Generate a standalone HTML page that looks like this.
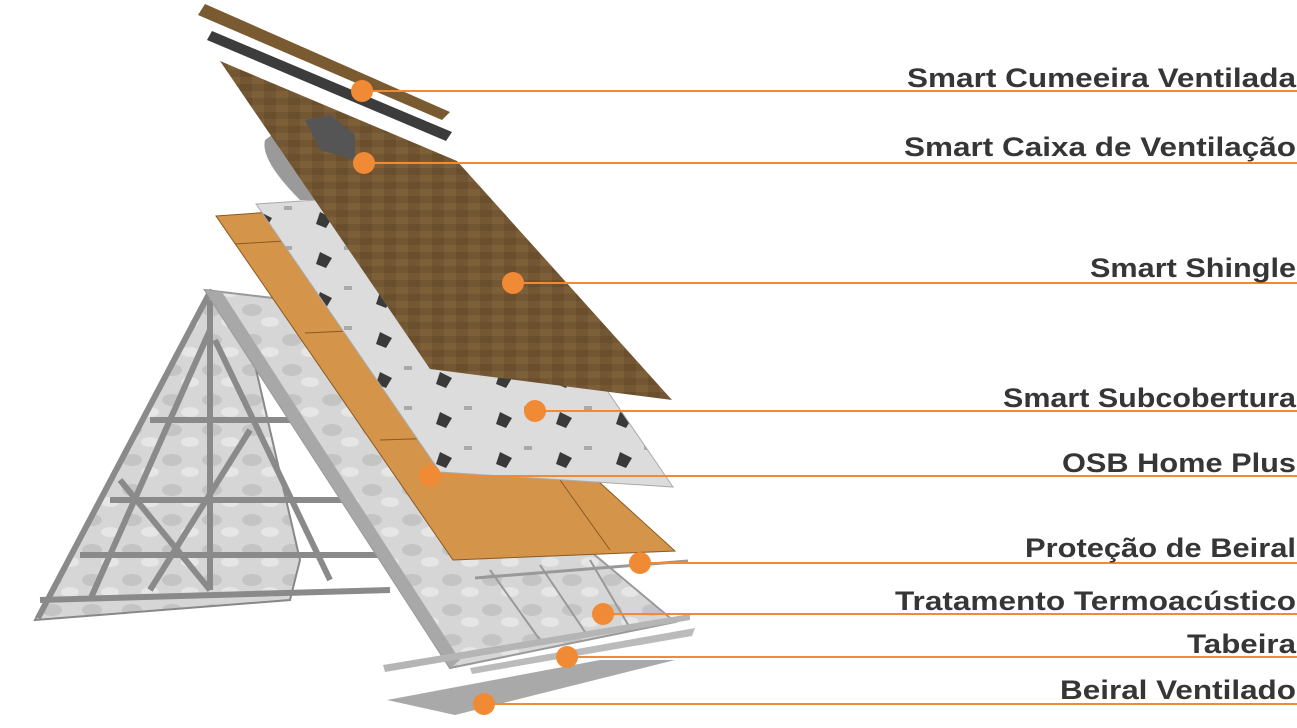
<!DOCTYPE html>
<html><head><meta charset="utf-8"><style>
html,body{margin:0;padding:0;background:#fff;width:1297px;height:728px;overflow:hidden}
svg{display:block}
text{font-family:"Liberation Sans",sans-serif;font-weight:bold;font-size:27px;fill:#363636}
</style></head><body>
<svg width="1297" height="728" viewBox="0 0 1297 728" xmlns="http://www.w3.org/2000/svg">
<defs>
<pattern id="ins" width="40" height="30" patternUnits="userSpaceOnUse">
<rect width="40" height="30" fill="#d6d6d6"/><ellipse cx="12" cy="10" rx="10" ry="6" fill="#c4c4c4"/><ellipse cx="30" cy="22" rx="9" ry="5" fill="#e6e6e6"/>
</pattern>
<pattern id="sh" width="24" height="14" patternUnits="userSpaceOnUse">
<rect width="24" height="14" fill="#735633"/><rect x="0" y="0" width="12" height="7" fill="#6a4f2c"/><rect x="12" y="7" width="12" height="7" fill="#7d5f38"/>
</pattern>
<pattern id="sub" width="60" height="40" patternUnits="userSpaceOnUse">
<rect width="60" height="40" fill="#dcdcdc"/><path d="M20 12 l12 6 l-6 10 l-10 -4z" fill="#3a3a3a"/><rect x="44" y="6" width="8" height="4" fill="#aaa"/>
</pattern>
</defs>
<polygon points="210,290 35,620 290,600 300,560 240,300" fill="url(#ins)" stroke="#888" stroke-width="2"/>
<g stroke="#8a8a8a" stroke-width="6" fill="none">
<line x1="210" y1="292" x2="38" y2="618"/>
<line x1="210" y1="300" x2="210" y2="590"/>
<line x1="150" y1="420" x2="390" y2="420"/>
<line x1="110" y1="500" x2="390" y2="500"/>
<line x1="80" y1="555" x2="400" y2="555"/>
<line x1="40" y1="600" x2="390" y2="590"/>
<line x1="210" y1="330" x2="90" y2="600"/>
<line x1="215" y1="340" x2="330" y2="580"/>
<line x1="250" y1="430" x2="150" y2="590"/>
<line x1="120" y1="480" x2="210" y2="590"/>
</g>
<polygon points="205,290 290,300 675,622 450,668 " fill="url(#ins)" stroke="#999" stroke-width="2"/>
<g stroke="#999" stroke-width="2"><line x1="490" y1="570" x2="540" y2="640"/><line x1="540" y1="565" x2="585" y2="632"/><line x1="590" y1="560" x2="630" y2="628"/></g>
<polygon points="205,290 222,292 460,660 450,668" fill="#a8a8a8"/>
<polygon points="216,216 300,210 675,551 453,560" fill="#d4944a" stroke="#8a5a20" stroke-width="1"/>
<line x1="235" y1="244" x2="300" y2="240" stroke="#8a5a20"/>
<line x1="305" y1="333" x2="370" y2="330" stroke="#8a5a20"/>
<line x1="380" y1="440" x2="440" y2="438" stroke="#8a5a20"/>
<line x1="560" y1="480" x2="610" y2="550" stroke="#8a5a20"/>
<polygon points="256,204 470,190 673,487 440,472" fill="url(#sub)" stroke="#aaa"/>
<path d="M265,140 Q260,160 300,200 L320,200 Q285,160 272,135Z" fill="#9a9a9a"/>
<polygon points="220,61 457,161 672,400 430,369" fill="url(#sh)"/>
<polygon points="305,120 330,115 355,135 355,160 320,150" fill="#555"/>
<polygon points="198,15 205,4 450,112 442,120" fill="#7a5a30"/>
<polygon points="207,40 212,31 452,132 446,141" fill="#3c3c3c"/>
<line x1="475" y1="578" x2="688" y2="561" stroke="#999" stroke-width="3"/>
<polygon points="383,665 690,614 690,620 385,672" fill="#b5b5b5"/>
<polygon points="470,668 695,628 692,636 472,674" fill="#bbb"/>
<polygon points="387,700 600,660 675,660 455,715" fill="#a9a9a9"/>
<g stroke="#f08a35" stroke-width="2">
<line x1="362" y1="91" x2="1297" y2="91"/>
<line x1="364" y1="163" x2="1297" y2="163"/>
<line x1="513" y1="283" x2="1297" y2="283"/>
<line x1="535" y1="411" x2="1297" y2="411"/>
<line x1="430" y1="476" x2="1297" y2="476"/>
<line x1="640" y1="563" x2="1297" y2="563"/>
<line x1="603" y1="614" x2="1297" y2="614"/>
<line x1="567" y1="657" x2="1297" y2="657"/>
<line x1="484" y1="704" x2="1297" y2="704"/>
</g>
<g fill="#f08a35">
<circle cx="362" cy="91" r="11"/><circle cx="364" cy="163" r="11"/><circle cx="513" cy="283" r="11"/>
<circle cx="535" cy="411" r="11"/><circle cx="430" cy="476" r="11"/><circle cx="640" cy="563" r="11"/>
<circle cx="603" cy="614" r="11"/><circle cx="567" cy="657" r="11"/><circle cx="484" cy="704" r="11"/>
</g>
<g>
<text x="907" y="87" textLength="389" lengthAdjust="spacingAndGlyphs">Smart Cumeeira Ventilada</text>
<text x="904" y="156" textLength="392" lengthAdjust="spacingAndGlyphs">Smart Caixa de Ventilação</text>
<text x="1090" y="277" textLength="206" lengthAdjust="spacingAndGlyphs">Smart Shingle</text>
<text x="1003" y="407" textLength="293" lengthAdjust="spacingAndGlyphs">Smart Subcobertura</text>
<text x="1062" y="472" textLength="234" lengthAdjust="spacingAndGlyphs">OSB Home Plus</text>
<text x="1025" y="557" textLength="271" lengthAdjust="spacingAndGlyphs">Proteção de Beiral</text>
<text x="895" y="610" textLength="401" lengthAdjust="spacingAndGlyphs">Tratamento Termoacústico</text>
<text x="1187" y="653" textLength="109" lengthAdjust="spacingAndGlyphs">Tabeira</text>
<text x="1060" y="699" textLength="236" lengthAdjust="spacingAndGlyphs">Beiral Ventilado</text>
</g>
</svg>
</body></html>
